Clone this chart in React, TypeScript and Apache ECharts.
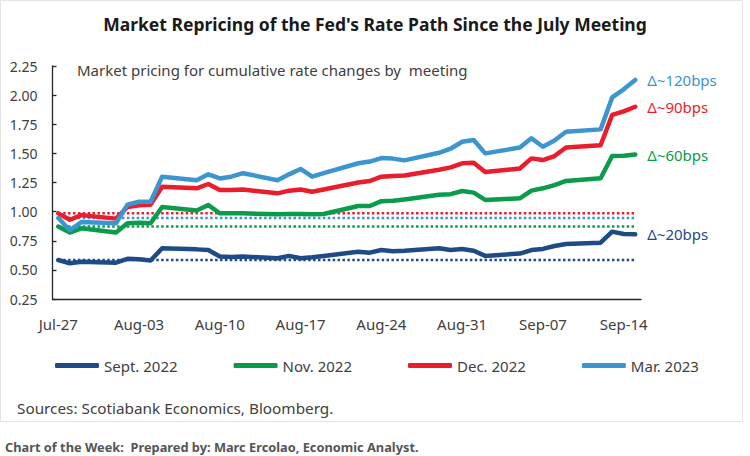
import React, { useEffect, useRef } from "react";
import * as echarts from "echarts";

// Trading days shown in the chart
const tradeDates = [
  "Jul-27", "Jul-28", "Jul-29",
  "Aug-01", "Aug-02", "Aug-03", "Aug-04", "Aug-05",
  "Aug-08", "Aug-09", "Aug-10", "Aug-11", "Aug-12",
  "Aug-15", "Aug-16", "Aug-17", "Aug-18", "Aug-19",
  "Aug-22", "Aug-23", "Aug-24", "Aug-25", "Aug-26",
  "Aug-29", "Aug-30", "Aug-31", "Sep-01", "Sep-02",
  "Sep-05", "Sep-06", "Sep-07", "Sep-08", "Sep-09",
  "Sep-12", "Sep-13", "Sep-14", "Sep-15",
];

// Calendar span of the date axis (month, first day, last day)
const axisMonths: [string, number, number][] = [
  ["Jul", 27, 31],
  ["Aug", 1, 31],
  ["Sep", 1, 15],
];

const seriesNames = ["Sept. 2022", "Nov. 2022", "Dec. 2022", "Mar. 2023"];
const endLabels = ["Δ~20bps", "Δ~60bps", "Δ~90bps", "Δ~120bps"];
const colors = ["#1e4b87", "#0a9b4b", "#ea1d2c", "#3d95d0"];

const sept2022 = [
  0.585, 0.556, 0.57,
  0.562, 0.595, 0.592, 0.58, 0.685,
  0.676, 0.67, 0.615, 0.61, 0.615,
  0.60, 0.62, 0.60, 0.608, 0.62,
  0.656, 0.648, 0.67, 0.66, 0.664,
  0.685, 0.67, 0.68, 0.664, 0.62,
  0.64, 0.67, 0.68, 0.705, 0.722,
  0.733, 0.828, 0.808, 0.805,
];
const nov2022 = [
  0.872, 0.82, 0.857,
  0.82, 0.90, 0.905, 0.90, 1.04,
  1.01, 1.057, 0.985, 0.985, 0.985,
  0.977, 0.98, 0.98, 0.977, 0.98,
  1.048, 1.048, 1.09, 1.093, 1.105,
  1.145, 1.15, 1.177, 1.163, 1.10,
  1.114, 1.18, 1.20, 1.228, 1.263,
  1.286, 1.477, 1.48, 1.49,
];
const dec2022 = [
  0.985, 0.93, 0.97,
  0.94, 1.04, 1.055, 1.06, 1.214,
  1.20, 1.237, 1.186, 1.186, 1.19,
  1.157, 1.18, 1.19, 1.17, 1.19,
  1.25, 1.263, 1.30, 1.305, 1.31,
  1.36, 1.38, 1.415, 1.42, 1.34,
  1.37, 1.457, 1.443, 1.477, 1.55,
  1.57, 1.83, 1.86, 1.90,
];
const mar2023 = [
  0.945, 0.84, 0.91,
  0.90, 1.06, 1.085, 1.085, 1.30,
  1.27, 1.32, 1.285, 1.30, 1.33,
  1.27, 1.32, 1.366, 1.30, 1.33,
  1.415, 1.43, 1.46, 1.455, 1.44,
  1.505, 1.54, 1.60, 1.615, 1.50,
  1.55, 1.63, 1.557, 1.61, 1.686,
  1.706, 1.98, 2.05, 2.13,
];
const allSeries = [sept2022, nov2022, dec2022, mar2023];

const yTicks = { min: 0.25, max: 2.25, step: 0.25 };

const FONT = "'Noto Sans', sans-serif";
const TEXT = "#404040";
const AXIS = "#262626";

export default function App() {
  const ref = useRef<HTMLDivElement>(null);

  useEffect(() => {
    if (!ref.current) return;
    const chart = echarts.init(ref.current, undefined, { renderer: "svg" });

    const calDays: string[] = [];
    axisMonths.forEach(([m, a, b]) => {
      for (let d = a; d <= b; d++) calDays.push(`${m}-${d < 10 ? "0" + d : d}`);
    });

    const toCal = (vals: number[]) =>
      calDays.map((d) => {
        const i = tradeDates.indexOf(d);
        return i >= 0 ? vals[i] : null;
      });

    const dotted = allSeries.map((vals, k) => ({
      name: seriesNames[k] + " start",
      type: "line",
      silent: true,
      symbol: "none",
      z: 1,
      data: [
        [tradeDates[0], vals[0]],
        [tradeDates[tradeDates.length - 1], vals[0]],
      ],
      lineStyle: { color: colors[k], width: 2.5, type: [2.5, 2.4] },
    }));

    const solid = allSeries.map((vals, k) => ({
      name: seriesNames[k],
      type: "line",
      symbol: "none",
      connectNulls: true,
      z: 3,
      data: toCal(vals),
      lineStyle: { color: colors[k], width: 4.5, cap: "round", join: "round" },
      itemStyle: { color: colors[k] },
      endLabel: {
        show: true,
        formatter: endLabels[k],
        distance: 12,
        color: colors[k],
        fontSize: 15,
        fontFamily: FONT,
      },
    }));

    chart.setOption({
      animation: false,
      backgroundColor: "#ffffff",
      textStyle: { fontFamily: FONT },
      title: {
        text: "Market Repricing of the Fed's Rate Path Since the July Meeting",
        left: "center",
        top: 10,
        textStyle: { fontSize: 17.5, fontWeight: "bold", color: "#1a1a1a", fontFamily: FONT },
      },
      grid: { left: 52.5, right: 109, top: 66, bottom: 157 },
      xAxis: {
        type: "category",
        data: calDays,
        boundaryGap: true,
        axisLine: { lineStyle: { color: AXIS, width: 1.3 } },
        axisTick: { inside: true, length: 4, interval: 6, lineStyle: { color: AXIS, width: 1.3 } },
        axisLabel: { interval: 6, margin: 17, fontSize: 15, color: TEXT, fontFamily: FONT },
        splitLine: { show: false },
      },
      yAxis: {
        type: "value",
        min: yTicks.min,
        max: yTicks.max,
        interval: yTicks.step,
        axisLine: { show: true, lineStyle: { color: AXIS, width: 1.3 } },
        axisTick: { show: true, inside: true, length: 4, lineStyle: { color: AXIS, width: 1.3 } },
        splitLine: { show: false },
        axisLabel: {
          formatter: (v: number) => v.toFixed(2),
          margin: 15,
          fontSize: 14,
          color: TEXT,
          fontFamily: FONT,
        },
      },
      legend: {
        data: seriesNames,
        left: 55,
        top: 358,
        padding: 0,
        itemWidth: 44,
        itemHeight: 5,
        itemGap: 56,
        icon: "roundRect",
        textStyle: { fontSize: 15, color: TEXT, fontFamily: FONT },
      },
      graphic: [
        {
          type: "rect",
          silent: true,
          shape: { x: 0.5, y: 0.5, width: 742, height: 421 },
          style: { fill: "none", stroke: "#e3e3e3", lineWidth: 1 },
        },
        {
          type: "text",
          x: 77,
          y: 70,
          style: {
            text: "Market pricing for cumulative rate changes by  meeting",
            fill: TEXT,
            fontSize: 15,
            fontFamily: FONT,
            verticalAlign: "middle",
          },
        },
        {
          type: "text",
          x: 17,
          y: 408,
          style: {
            text: "Sources: Scotiabank Economics, Bloomberg.",
            fill: TEXT,
            fontSize: 15.3,
            fontFamily: FONT,
            verticalAlign: "middle",
          },
        },
        {
          type: "text",
          x: 5,
          y: 447,
          style: {
            text: "Chart of the Week:  Prepared by: Marc Ercolao, Economic Analyst.",
            fill: "#555555",
            fontSize: 12.8,
            fontWeight: "bold",
            fontFamily: FONT,
            verticalAlign: "middle",
          },
        },
      ],
      series: [...dotted, ...solid],
    });

    return () => chart.dispose();
  }, []);

  return (
    <div
      ref={ref}
      style={{ position: "absolute", left: 0, top: 0, width: 750, height: 456, background: "#fff" }}
    />
  );
}
